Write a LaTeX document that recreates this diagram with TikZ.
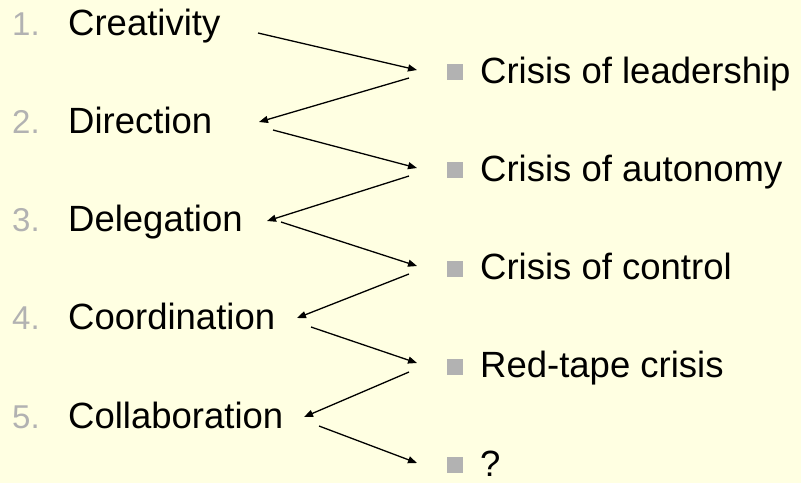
\documentclass[tikz,border=0pt]{standalone}
\usepackage{fontspec}
\setmainfont{Liberation Sans}
\usetikzlibrary{arrows.meta}
\definecolor{paper}{RGB}{255,255,226}
\definecolor{bulletgray}{RGB}{178,178,178}
\begin{document}
\begin{tikzpicture}[x=1pt,y=-1pt,
  stage/.style={anchor=base west,inner sep=0pt,font=\fontsize{36.5}{40}\selectfont},
  num/.style={anchor=base west,inner sep=0pt,text=bulletgray,font=\fontsize{33}{36}\selectfont},
  crisis/.style={anchor=base west,inner sep=0pt,font=\fontsize{36.5}{40}\selectfont},
  sq/.style={fill=bulletgray,draw=none,minimum size=16pt,inner sep=0pt},
  link/.style={line width=1.3pt,-{Triangle[length=9pt,width=7pt]}}]
\fill[paper] (0,0) rectangle (801,483);
\useasboundingbox (0,0) rectangle (801,483);
% growth stages (left column)
\foreach \i/\t [evaluate=\i as \yb using {35+98.25*(\i-1)}] in
  {1/Creativity,2/Direction,3/Delegation,4/Coordination,5/Collaboration}{
  \node[num] (n\i) at (12,\yb) {\i.};
  \node[stage] (s\i) at (68,\yb) {\t};
}
% crises (right column)
\foreach \i/\t [evaluate=\i as \yb using {83+98.25*(\i-1)}] in
  {1/Crisis of leadership,2/Crisis of autonomy,3/Crisis of control,4/Red-tape crisis,5/?}{
  \node[sq] (b\i) at (455,\yb-11) {};
  \node[crisis] (c\i) at (480,\yb) {\t};
}
% zigzag end points
\coordinate (a1) at (258,33);  \coordinate (t1) at (417,70);
\coordinate (d1) at (409,78);  \coordinate (u1) at (259,122);
\coordinate (a2) at (273,130); \coordinate (t2) at (417,168);
\coordinate (d2) at (409,176); \coordinate (u2) at (267,221);
\coordinate (a3) at (281,222); \coordinate (t3) at (417,266);
\coordinate (d3) at (409,274); \coordinate (u3) at (297,318);
\coordinate (a4) at (311,327); \coordinate (t4) at (417,363);
\coordinate (d4) at (409,372); \coordinate (u4) at (304,417);
\coordinate (a5) at (319,426); \coordinate (t5) at (417,463);
\foreach \k in {1,...,5}{\draw[link] (a\k) -- (t\k);}
\foreach \k in {1,...,4}{\draw[link] (d\k) -- (u\k);}
\end{tikzpicture}
\end{document}
